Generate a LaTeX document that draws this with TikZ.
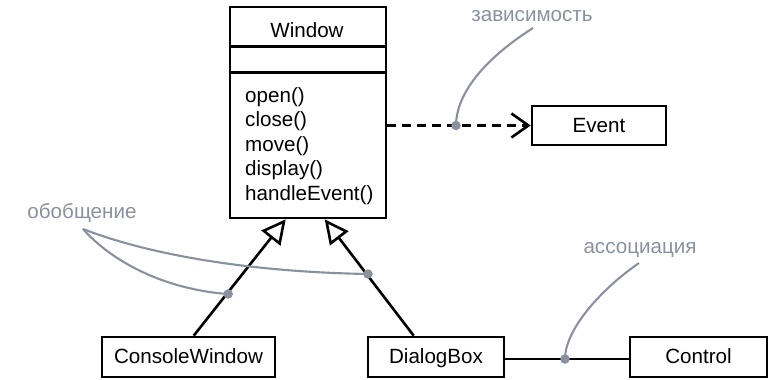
\documentclass[tikz,border=0pt]{standalone}
\usepackage{fontspec}
\setmainfont{Liberation Sans}
\usetikzlibrary{arrows.meta,calc}
\definecolor{note}{RGB}{138,145,158}
\begin{document}
\begin{tikzpicture}[x=1pt,y=-1pt,
 box/.style={draw=black,line width=2.6pt,fill=white,inner sep=0pt,text height=14pt,text depth=1pt,font=\fontsize{20.6}{24}\selectfont},
 txt/.style={inner sep=0pt,font=\fontsize{20.6}{24}\selectfont},
 notetxt/.style={txt,text=note},
 noteline/.style={draw=note,line width=2.1pt},
 notedot/.style={circle,fill=note,inner sep=0pt,minimum size=9.5pt},
 link/.style={line width=2.6pt},
]
\useasboundingbox (0,0) rectangle (769,380);
% Window class
\node[box,minimum width=156pt,minimum height=211pt] (win) at (308,112.5) {};
\draw[link] ($(win.north west)+(0,41)$) -- ($(win.north east)+(0,41)$);
\draw[link] ($(win.north west)+(0,67)$) -- ($(win.north east)+(0,67)$);
\node[txt,anchor=base] (wt) at (307,37) {Window};
\node[txt,anchor=base west] (op1) at (245,102) {open()};
\node[txt,anchor=base west] (op2) at (245,126.5) {close()};
\node[txt,anchor=base west] (op3) at (245,151) {move()};
\node[txt,anchor=base west] (op4) at (245,175.5) {display()};
\node[txt,anchor=base west] (op5) at (245,200) {handleEvent()};
% other classes
\node[box,minimum width=134pt,minimum height=39pt] (ev) at (599,125.5) {Event};
\node[box,minimum width=173pt,minimum height=40pt] (cw) at (188.5,357) {ConsoleWindow};
\node[box,minimum width=136pt,minimum height=40pt] (db) at (436,357) {DialogBox};
\node[box,minimum width=137pt,minimum height=40pt] (ctl) at (698.5,357) {Control};
% coordinates
\coordinate (g1) at ($(win.south west)+(57,0)$);
\coordinate (g2) at ($(win.south west)+(96,0)$);
\coordinate (cwtop) at ($(cw.north west)+(93,0)$);
\coordinate (dbtop) at ($(db.north west)+(47,0)$);
% dependency
\draw[link,dash pattern=on 9pt off 6pt,-{Straight Barb[length=17pt,width=24pt]}] (win.east |- ev.west) -- (ev.west);
% generalizations
\draw[link,-{Triangle[open,length=24pt,width=24pt,fill=white]}] (cwtop) -- (g1);
\draw[link,-{Triangle[open,length=24pt,width=23pt,fill=white]}] (dbtop) -- (g2);
% association
\draw[link] ($(db.east)+(0,2)$) -- ($(ctl.west)+(0,2)$);
% notes
\coordinate (n1) at (533,28);
\coordinate (n2) at (83,229);
\coordinate (n3) at (639,263);
\coordinate (d1) at (456,125.5);
\coordinate (d2) at (228.2,294);
\coordinate (d3) at (367.9,274);
\coordinate (d4) at (565,359);
\draw[noteline] (n1) .. controls (475,65) and (456,100) .. (d1);
\draw[noteline] (n2) .. controls (115,265) and (170,290) .. (d2);
\draw[noteline] (n2) .. controls (150,255) and (250,272) .. (d3);
\draw[noteline] (n3) .. controls (600,290) and (565,330) .. (d4);
\node[notedot] (dd1) at (d1) {};
\node[notedot] (dd2) at (d2) {};
\node[notedot] (dd3) at (d3) {};
\node[notedot] (dd4) at (d4) {};
\node[notetxt,anchor=base] (l1) at (532,21) {зависимость};
\node[notetxt,anchor=base] (l2) at (82,218) {обобщение};
\node[notetxt,anchor=base] (l3) at (640,253) {ассоциация};
\end{tikzpicture}
\end{document}
